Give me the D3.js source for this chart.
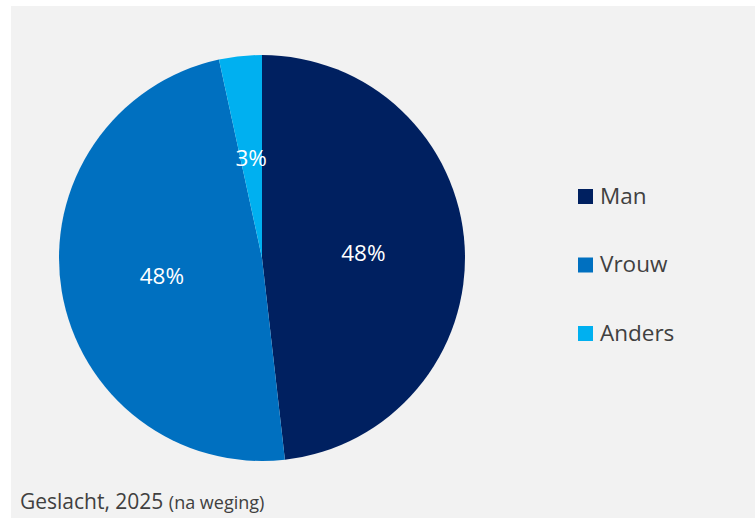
<!DOCTYPE html>
<html>
<head>
<meta charset="utf-8">
<script src="https://cdn.jsdelivr.net/npm/d3@7"></script>
<style>
  body { margin: 0; background: #fff; }
  text { font-family: "Open Sans", sans-serif; }
</style>
</head>
<body>
<svg width="755" height="518"></svg>
<script>
// data
var categories = ["Man", "Vrouw", "Anders"];
var values = [48.2, 48.4, 3.4];
var labels = ["48%", "48%", "3%"];
var colors = ["#002060", "#0070C0", "#00B0F0"];

var svg = d3.select("svg"),
    width = +svg.attr("width"),
    height = +svg.attr("height");

// chart area background
svg.append("rect")
  .attr("x", 11).attr("y", 6)
  .attr("width", width - 11).attr("height", height - 6)
  .attr("fill", "#f2f2f2");

var cx = 262, cy = 258, r = 203;

var color = d3.scaleOrdinal().domain(categories).range(colors);

var pie = d3.pie().sort(null).value(function(d){ return d.value; });
var arc = d3.arc().innerRadius(0).outerRadius(r);

var data = categories.map(function(c, i){ return {name: c, value: values[i], label: labels[i]}; });

var g = svg.append("g").attr("transform", "translate(" + cx + "," + cy + ")");

var slices = g.selectAll("g.slice")
  .data(pie(data))
  .enter().append("g").attr("class", "slice");

slices.append("path")
  .attr("d", arc)
  .attr("fill", function(d){ return color(d.data.name); });

slices.append("text")
  .attr("transform", function(d){ return "translate(" + arc.centroid(d) + ")"; })
  .attr("text-anchor", "middle")
  .attr("dy", "0.4em")
  .attr("fill", "#fff")
  .style("font-size", "22.5px")
  .text(function(d){ return d.data.label; });

// legend
var legend = svg.append("g").attr("transform", "translate(578,196)");
var item = legend.selectAll("g")
  .data(categories)
  .enter().append("g")
  .attr("transform", function(d, i){ return "translate(0," + (i * 68.5) + ")"; });

item.append("rect")
  .attr("x", 0).attr("y", -7)
  .attr("width", 15).attr("height", 15)
  .attr("fill", function(d){ return color(d); });

item.append("text")
  .attr("x", 22).attr("y", 0)
  .attr("dy", "0.35em")
  .attr("fill", "#404040")
  .style("font-size", "22.5px")
  .text(function(d){ return d; });

// footer note
var note = svg.append("text")
  .attr("x", 20).attr("y", 509)
  .attr("fill", "#404040")
  .style("font-size", "21px");
note.append("tspan").text("Geslacht, 2025 ");
note.append("tspan").style("font-size", "18px").text("(na weging)");
</script>
</body>
</html>
